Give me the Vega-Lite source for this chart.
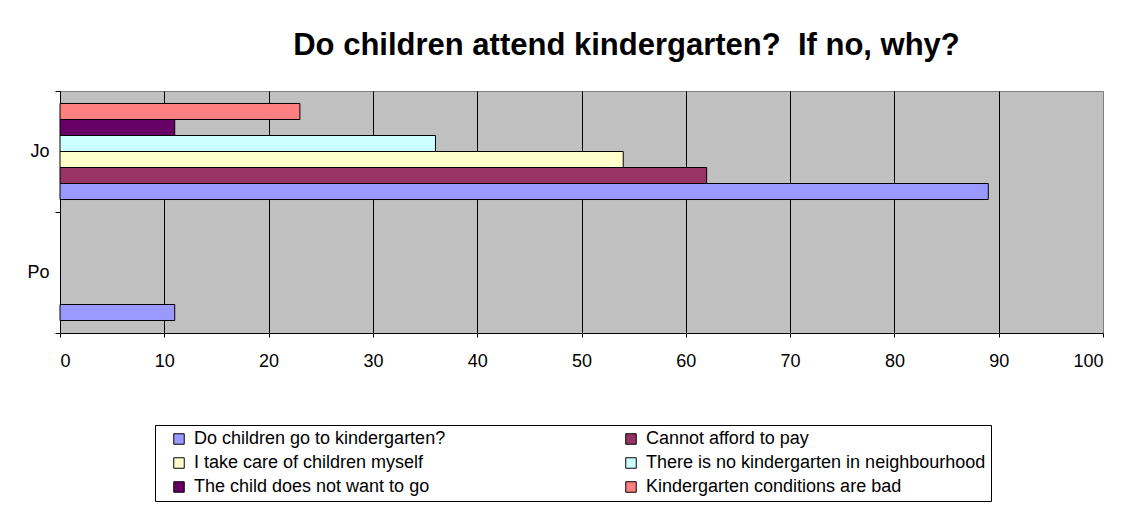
{
  "$schema": "https://vega.github.io/schema/vega-lite/v6.json",
  "autosize": {"type": "none"},
  "padding": {"left": 60, "top": 91, "right": 27, "bottom": 173},
  "width": 1043,
  "height": 242,
  "background": "white",
  "config": {
    "font": "Liberation Sans",
    "view": {"fill": "#C0C0C0", "stroke": "#808080", "strokeWidth": 1}
  },
  "title": {
    "text": "Do children attend kindergarten? \u00a0If no, why?",
    "font": "Liberation Sans",
    "fontSize": 31,
    "fontWeight": "bold",
    "color": "black",
    "anchor": "middle",
    "baseline": "alphabetic",
    "offset": -4,
    "dx": 45
  },
  "data": {
    "values": [
      {"cat": "Jo", "reason": "Do children go to kindergarten?", "value": 89},
      {"cat": "Jo", "reason": "Cannot afford to pay", "value": 62},
      {"cat": "Jo", "reason": "I take care of children myself", "value": 54},
      {"cat": "Jo", "reason": "There is no kindergarten in neighbourhood", "value": 36},
      {"cat": "Jo", "reason": "The child does not want to go", "value": 11},
      {"cat": "Jo", "reason": "Kindergarten conditions are bad", "value": 23},
      {"cat": "Po", "reason": "Do children go to kindergarten?", "value": 11}
    ]
  },
  "mark": {"type": "bar", "stroke": "black", "strokeWidth": 1, "cornerRadius": 0},
  "encoding": {
    "x": {
      "field": "value",
      "type": "quantitative",
      "scale": {"domain": [0, 100], "nice": false, "zero": true},
      "axis": {
        "title": null,
        "values": [0, 10, 20, 30, 40, 50, 60, 70, 80, 90, 100],
        "domainColor": "black",
        "domainWidth": 1,
        "tickColor": "black",
        "tickSize": 4,
        "labelFontSize": 18,
        "labelColor": "black",
        "labelPadding": 15,
        "labelFont": "Liberation Sans",
        "grid": true,
        "gridColor": {"condition": {"test": "datum.value === 100", "value": "#808080"}, "value": "black"},
        "gridWidth": 1,
        "gridOpacity": 1
      }
    },
    "y": {
      "field": "cat",
      "type": "nominal",
      "sort": ["Jo", "Po"],
      "scale": {"domain": ["Jo", "Po"], "paddingInner": 0, "paddingOuter": 0},
      "axis": {
        "title": null,
        "tickBand": "extent",
        "domainColor": "black",
        "tickColor": "black",
        "tickSize": 5,
        "labelPadding": 6,
        "labelFontSize": 18,
        "labelColor": "black",
        "labelFont": "Liberation Sans",
        "grid": false
      }
    },
    "yOffset": {
      "field": "reason",
      "type": "nominal",
      "scale": {
        "domain": [
          "Kindergarten conditions are bad",
          "The child does not want to go",
          "There is no kindergarten in neighbourhood",
          "I take care of children myself",
          "Cannot afford to pay",
          "Do children go to kindergarten?"
        ],
        "paddingInner": 0,
        "paddingOuter": 0.78
      }
    },
    "color": {
      "field": "reason",
      "type": "nominal",
      "scale": {
        "domain": [
          "Do children go to kindergarten?",
          "I take care of children myself",
          "The child does not want to go",
          "Cannot afford to pay",
          "There is no kindergarten in neighbourhood",
          "Kindergarten conditions are bad"
        ],
        "range": ["#9999FF", "#FFFFCC", "#660066", "#993366", "#CCFFFF", "#FF8080"]
      },
      "legend": {
        "orient": "none",
        "legendX": 95,
        "legendY": 334,
        "direction": "vertical",
        "columns": 2,
        "columnPadding": 176,
        "rowPadding": 6,
        "padding": 5,
        "strokeColor": "black",
        "fillColor": "white",
        "symbolType": "square",
        "symbolSize": 110,
        "symbolStrokeColor": "black",
        "symbolStrokeWidth": 1,
        "symbolOpacity": 1,
        "labelFontSize": 18,
        "labelFont": "Liberation Sans",
        "labelColor": "black",
        "labelOffset": 6,
        "labelLimit": 500,
        "title": " ",
        "titleOrient": "left",
        "titlePadding": 10,
        "titleFontSize": 10
      }
    }
  }
}
